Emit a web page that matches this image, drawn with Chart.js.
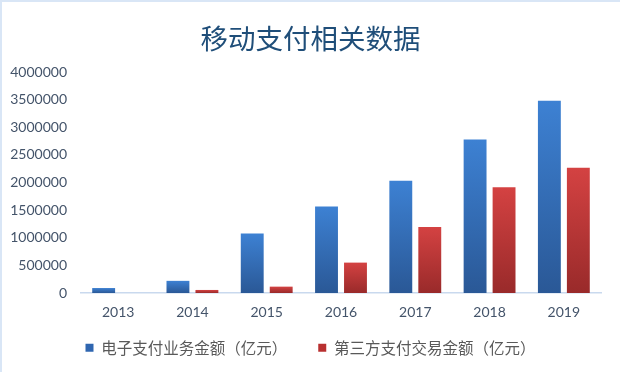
<!DOCTYPE html>
<html><head><meta charset="utf-8">
<script src="https://cdn.jsdelivr.net/npm/chart.js@4/dist/chart.umd.min.js"></script>
<style>html,body{margin:0;padding:0;background:#fff;}#wrap{width:620px;height:372px;position:relative;}</style>
</head><body><div id="wrap"><canvas id="c" width="620" height="372"></canvas></div>
<script>
const categories = ["2013","2014","2015","2016","2017","2018","2019"];
const electronicPayment = [90000, 220000, 1075000, 1565000, 2030000, 2780000, 3480000];
const thirdPartyPayment = [0, 55000, 115000, 550000, 1195000, 1913000, 2268000];
const seriesNames = ["电子支付业务金额（亿元）", "第三方支付交易金额（亿元）"];
const titleText = "移动支付相关数据";

function barGradient(top, bottom) {
  return function(ctx) {
    const chart = ctx.chart;
    const y = chart.scales && chart.scales.y;
    if (!chart.chartArea || !y || ctx.type !== 'data') return top;
    const v = ctx.parsed ? ctx.parsed.y : ctx.raw;
    const yTop = y.getPixelForValue(v);
    const yBot = y.getPixelForValue(0);
    if (!(yBot - yTop > 0.5)) return top;
    const g = chart.ctx.createLinearGradient(0, yTop, 0, yBot);
    g.addColorStop(0, top);
    g.addColorStop(1, bottom);
    return g;
  };
}

const frame = {
  id: 'frame',
  beforeDraw(chart) {
    const c = chart.ctx;
    c.save();
    c.fillStyle = '#ffffff';
    c.fillRect(0, 0, chart.width, chart.height);
    c.fillStyle = '#d9e6f6';
    c.fillRect(0, 0, chart.width, 2);
    c.fillRect(0, 0, 2, chart.height);
    c.restore();
  }
};

new Chart(document.getElementById('c'), {
  type: 'bar',
  data: {
    labels: categories,
    datasets: [
      { label: seriesNames[0], data: electronicPayment, backgroundColor: barGradient('#3d81d3', '#2a5896'), borderWidth: 0 },
      { label: seriesNames[1], data: thirdPartyPayment, backgroundColor: barGradient('#d44242', '#992a2a'), borderWidth: 0 }
    ]
  },
  plugins: [frame],
  options: {
    responsive: false,
    animation: false,
    devicePixelRatio: 1,
    categoryPercentage: 0.78,
    barPercentage: 0.79,
    layout: { padding: { left: 10, right: 9, top: 0, bottom: 11 } },
    plugins: {
      title: {
        display: true, text: titleText, color: '#1f4e79',
        font: { family: '"Noto Sans CJK SC", sans-serif', size: 27.5, weight: 'normal' },
        padding: { top: 22, bottom: 17 }
      },
      legend: {
        position: 'bottom',
        maxHeight: 52,
        labels: {
          boxWidth: 8, boxHeight: 8, padding: 31, color: '#595959',
          font: { family: '"Noto Sans CJK SC", sans-serif', size: 15.5 },
          generateLabels(chart) {
            const cols = ['#2f66b0', '#b83030'];
            return chart.data.datasets.map((d, i) => ({
              text: d.label, fillStyle: cols[i], strokeStyle: cols[i], lineWidth: 0,
              datasetIndex: i, hidden: false, fontColor: '#595959'
            }));
          }
        }
      },
      tooltip: { enabled: false }
    },
    scales: {
      x: {
        grid: { display: false, drawTicks: false },
        border: { display: true, color: '#c9d9ee', width: 1.5 },
        ticks: { color: '#44546a', padding: 11, font: { family: 'Lato, sans-serif', size: 14 } },
        afterFit(s) { s.height = 16; s._computeLabelArea = function() { return undefined; }; }
      },
      y: {
        min: 0, max: 4000000,
        grid: { display: false, drawTicks: false },
        border: { display: false },
        ticks: { stepSize: 500000, color: '#44546a', padding: 14, font: { family: 'Lato, sans-serif', size: 14 },
          callback: (v) => String(v) },
        afterFit(s) { s.width = 71; }
      },
      y2: {
        position: 'right', display: true,
        grid: { display: false, drawTicks: false },
        border: { display: false },
        ticks: { display: false },
        afterFit(s) { s.width = 10; }
      }
    }
  }
});
</script></body></html>
